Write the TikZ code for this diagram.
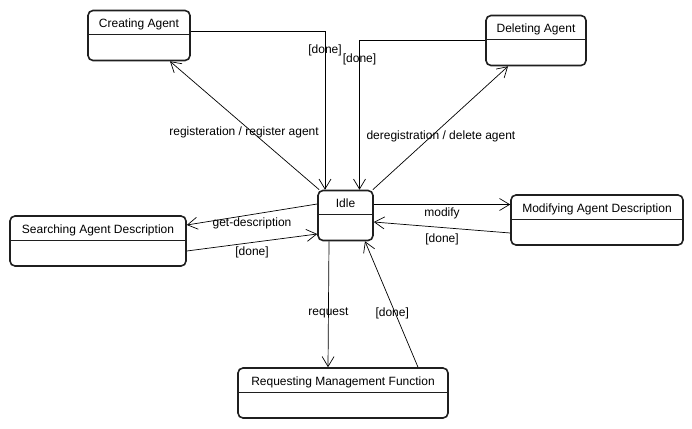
\documentclass[tikz,border=0pt]{standalone}
\usepackage{fontspec}
\setmainfont{Liberation Sans}
\usepackage{tikz}
\usetikzlibrary{arrows.meta}

\tikzset{
  state/.style={draw=black!88, line width=1.6pt, rounded corners=5pt, inner sep=0pt,
    minimum width=#1, text height=17pt, text depth=33pt,
    path picture={\draw[line width=0.8pt] ([yshift=-24pt]path picture bounding box.north west) -- ([yshift=-24pt]path picture bounding box.north east);}},
  trans/.style={line width=0.7pt, -{Straight Barb[length=10pt,width=12pt,line width=0.7pt]}},
}

\begin{document}
\begin{tikzpicture}[x=1pt,y=-1pt,font=\fontsize{12}{14}\selectfont]
\useasboundingbox (0,0) rectangle (692,428);
\node[state=102pt] (creating) at (139,35.5) {Creating Agent};
\node[state=100pt] (deleting) at (536,40.5) {Deleting Agent};
\node[state=55pt] (idle) at (345.5,215.5) {Idle};
\node[state=172pt] (modifying) at (597,220) {Modifying Agent Description};
\node[state=176pt] (searching) at (98,241) {Searching Agent Description};
\node[state=210pt] (requesting) at (343,393) {Requesting Management Function};
\draw[trans] ([yshift=4pt]creating.east) -| ([xshift=-20.5pt]idle.north) node[pos=0.56] {[done]};
\draw[trans] (deleting.west) -| ([xshift=14pt]idle.north) node[pos=0.564] {[done]};
\draw[trans] ([xshift=2pt]idle.north west) -- ([xshift=31pt]creating.south) node[pos=0.45, xshift=-8pt] {registeration / register agent};
\draw[trans] ([xshift=-1pt]idle.north east) -- ([xshift=-28pt]deleting.south) node[pos=0.43, xshift=10pt] {deregistration / delete agent};
\draw[trans] ([yshift=11pt]idle.east) -- ([yshift=11pt]idle.east -| modifying.west) node[midway, yshift=-9pt] {modify};
\draw[trans] ([yshift=-13pt]modifying.west) -- ([yshift=-6.5pt]idle.east) node[midway, yshift=-11.5pt] {[done]};
\draw[trans] ([yshift=11.5pt]idle.west) -- ([yshift=16pt]searching.east) node[midway, yshift=-8.5pt] {get-description};
\draw[trans] ([yshift=-10pt]searching.east) -- ([yshift=-18.5pt]idle.west) node[midway, yshift=-9.5pt] {[done]};
\draw[trans] ([xshift=-16.5pt]idle.south) -- ([xshift=-15pt]requesting.north) node[pos=0.57] {request};
\draw[trans] ([xshift=75pt]requesting.north) -- ([xshift=19.5pt]idle.south) node[pos=0.43, xshift=-3pt] {[done]};
\end{tikzpicture}
\end{document}
